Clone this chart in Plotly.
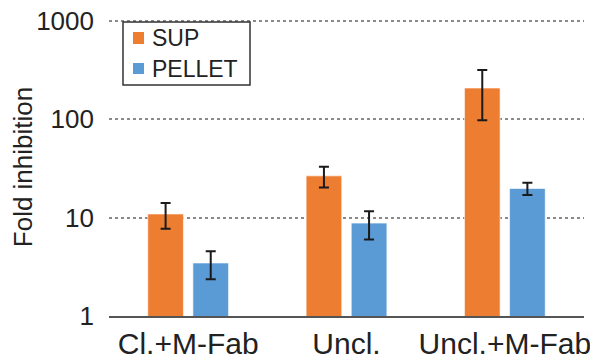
import plotly.graph_objects as go

categories = ["Cl.+M-Fab", "Uncl.", "Uncl.+M-Fab"]
sup_values = [10.9, 26.6, 208]
sup_errors = [3.2, 6.3, 110]
pellet_values = [3.46, 8.8, 19.8]
pellet_errors = [1.1, 2.8, 2.8]
y_tickvals = [1, 10, 100, 1000]
y_ticktext = ["1", "10", "100", "1000"]
series_names = ["SUP", "PELLET"]
series_colors = ["#ED7D31", "#5B9BD5"]

FONT = "Liberation Sans, Arial, Helvetica, sans-serif"
TXT = "#222222"

fig = go.Figure()
for name, color, vals, errs in zip(series_names, series_colors,
                                   [sup_values, pellet_values],
                                   [sup_errors, pellet_errors]):
    fig.add_trace(go.Bar(
        name=name, x=categories, y=vals,
        marker=dict(color=color, line=dict(color="rgba(255,255,255,0.6)", width=1)),
        error_y=dict(type="data", array=errs, visible=True, color="#1a1a1a",
                     thickness=2, width=5),
    ))

fig.update_layout(
    width=590, height=350,
    margin=dict(l=101, r=14, t=10, b=42, autoexpand=False),
    paper_bgcolor="white", plot_bgcolor="white",
    barmode="group", bargap=0.43, bargroupgap=0.21,
    font=dict(family=FONT, color=TXT),
    showlegend=False,
)
fig.update_xaxes(
    showline=True, linecolor="#555555", linewidth=2, automargin=False,
    showgrid=False, ticks="", tickfont=dict(family=FONT, size=30, color=TXT),
    range=[-0.5, 2.5], ticklabeloverflow="allow",
)
fig.update_yaxes(
    type="log", range=[0, 3.03], automargin=False,
    tickvals=y_tickvals, ticktext=y_ticktext, ticklabeloverflow="allow",
    tickfont=dict(family=FONT, size=26, color=TXT),
    showgrid=True, gridcolor="#8a8a8a", gridwidth=1.5, griddash="dot",
    showline=False, zeroline=False, ticks="", ticklabelstandoff=14,
    title=dict(text="Fold inhibition", font=dict(family=FONT, size=26, color=TXT), standoff=0),
)

# legend box (drawn manually to match the compact reference legend)
# paper coords for plot area: x 101..576, y 10..308 (fig px)
def py(fig_y):
    return (308 - fig_y) / 298.0

def px(fig_x):
    return (fig_x - 101) / 475.0

fig.add_shape(type="rect", xref="paper", yref="paper",
              x0=px(115), x1=px(242), y0=py(77), y1=py(14),
              fillcolor="white", line=dict(color="#333333", width=1.5), layer="above")
legend_rows = [(24, 36, 30), (55, 66, 61)]
for (ytop, ybot, ytxt), name, color in zip(legend_rows, series_names, series_colors):
    fig.add_shape(type="rect", xref="paper", yref="paper",
                  x0=px(125), x1=px(136), y0=py(ybot), y1=py(ytop),
                  fillcolor=color, line=dict(width=0), layer="above")
    fig.add_annotation(xref="paper", yref="paper", x=px(142), y=py(ytxt),
                       xanchor="left", yanchor="middle", showarrow=False,
                       text=name, font=dict(family=FONT, size=23, color=TXT))

# cropped panel-label remnant in the top-left corner
fig.add_shape(type="path", xref="paper", yref="paper",
              path=f"M {px(-8)},{py(-8)} L {px(6)},{py(-8)} Q {px(6)},{py(-5)} {px(4)},{py(-4)} L {px(-8)},{py(-4)} Z",
              fillcolor="#111111", line=dict(width=0), layer="above")

fig.write_html("out.html")
